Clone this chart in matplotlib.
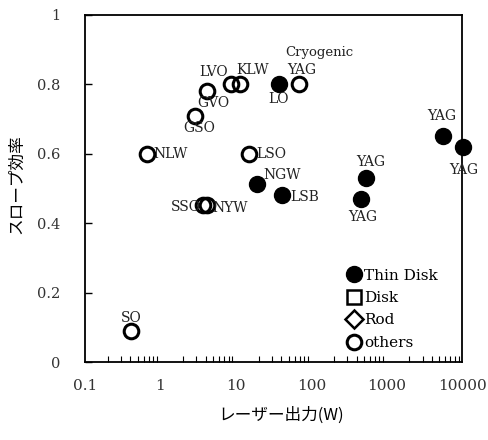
import numpy as np
import matplotlib.pyplot as plt

plt.rcParams['font.family'] = ['DejaVu Serif']

# laser output (W), slope efficiency, label
thin_x = [37, 19, 41, 525, 450, 5580, 10300]
thin_y = [0.80, 0.513, 0.48, 0.53, 0.47, 0.65, 0.62]
thin_lab = ['LO', 'NGW', 'LSB', 'YAG', 'YAG', 'YAG', 'YAG']

other_x = [0.41, 0.67, 2.84, 4.2, 8.6, 11.3, 69, 14.9, 3.7, 4.2]
other_y = [0.089, 0.60, 0.709, 0.78, 0.80, 0.80, 0.80, 0.60, 0.452, 0.452]
other_lab = ['SO', 'NLW', 'GSO', 'GVO', 'LVO', 'KLW', 'YAG', 'LSO', 'SSO', 'NYW']

disk_x, disk_y = [], []
rod_x, rod_y = [], []

# label offsets in pixels (dx, dy, ha)
thin_off = [(0, -15, 'center'), (6, 9, 'left'), (8, -2, 'left'),
            (5, 16, 'center'), (2, -18, 'center'), (-1, 20, 'center'), (1, -23, 'center')]
other_off = [(0, 13, 'center'), (6, 0, 'left'), (5, -12, 'center'), (6, -12, 'center'),
             (-17, 12, 'center'), (13, 14, 'center'), (3, 14, 'center'), (7, 0, 'left'),
             (-2, -2, 'right'), (5, -3, 'left')]

fig = plt.figure(figsize=(4.89, 4.40), dpi=100)
ax = fig.add_axes([0.174, 0.177, 0.771, 0.789])

ax.plot(thin_x, thin_y, 'o', ms=11.5, color='black', label='Thin Disk', clip_on=False)
ax.plot(disk_x, disk_y, 's', ms=10, mfc='white', mec='black', mew=1.8, label='Disk')
ax.plot(rod_x, rod_y, 'D', ms=9, mfc='white', mec='black', mew=1.8, label='Rod')
ax.plot(other_x, other_y, 'o', ms=10.5, mfc='none', mec='black', mew=2.2, label='others')

for x, y, t, (dx, dy, ha) in zip(thin_x, thin_y, thin_lab, thin_off):
    ax.annotate(t, (x, y), xytext=(dx, dy), textcoords='offset pixels',
                ha=ha, va='center', fontsize=10, color='#222222', annotation_clip=False)
for x, y, t, (dx, dy, ha) in zip(other_x, other_y, other_lab, other_off):
    ax.annotate(t, (x, y), xytext=(dx, dy), textcoords='offset pixels',
                ha=ha, va='center', fontsize=10, color='#222222', annotation_clip=False)
ax.annotate('Cryogenic', (other_x[6], other_y[6]), xytext=(20, 32),
            textcoords='offset pixels', ha='center', va='center',
            fontsize=9.5, color='#222222')

ax.set_xscale('log')
ax.set_xlim(0.1, 10000)
ax.set_ylim(0, 1)
ax.set_yticks([0, 0.2, 0.4, 0.6, 0.8, 1])
ax.set_yticklabels(['0', '0.2', '0.4', '0.6', '0.8', '1'])
ax.set_xticks([0.1, 1, 10, 100, 1000, 10000])
ax.set_xticklabels(['0.1', '1', '10', '100', '1000', '10000'])
ax.tick_params(axis='y', direction='in', length=5, width=1, pad=18, labelsize=10.5, labelcolor='#333333')
ax.tick_params(axis='x', which='major', direction='in', length=0, pad=12, labelsize=11, labelcolor='#333333')
ax.tick_params(axis='x', which='minor', direction='in', length=4, width=0.8)
for s in ax.spines.values():
    s.set_linewidth(1.3)

ax.set_ylabel('スロープ効率', family=['Noto Sans CJK JP'], fontsize=12)
ax.yaxis.set_label_coords(-0.16, 0.513)
ax.set_xlabel('レーザー出力(W)', family=['Noto Sans CJK JP', 'DejaVu Serif'], fontsize=12, labelpad=10)
ax.xaxis.set_label_coords(0.5 + 8 / 377, -0.128)

ax.legend(loc='lower left', bbox_to_anchor=(0.664, 0.0), frameon=False, fontsize=11,
          handlelength=0.8, handletextpad=0.3, labelspacing=0.55, borderpad=0.3)

fig.savefig('out.png', dpi=100)
